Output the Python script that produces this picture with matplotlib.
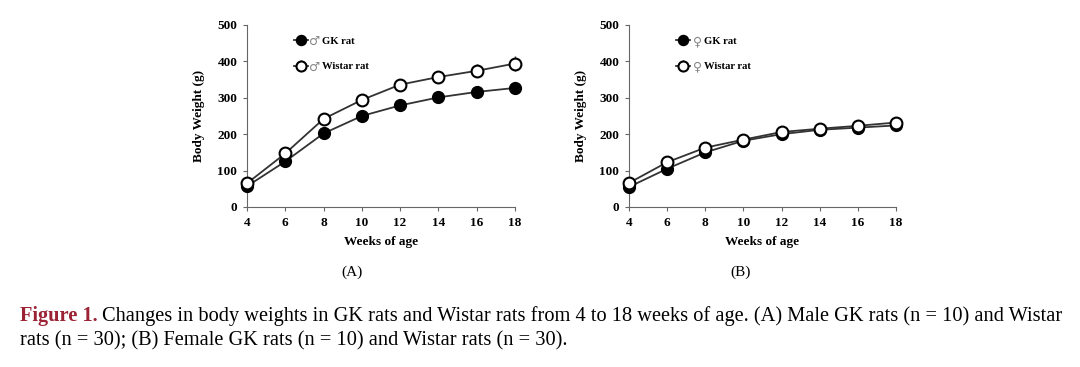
import numpy as np
import matplotlib.pyplot as plt

plt.rcParams['font.family'] = ['Liberation Serif', 'DejaVu Serif']

weeks = [4, 6, 8, 10, 12, 14, 16, 18]

# (A) male
male_gk = [57, 125, 202, 250, 279, 301, 316, 327]
male_gk_err = [3, 5, 6, 7, 7, 7, 8, 8]
male_wistar = [65, 147, 242, 294, 336, 357, 374, 394]
male_wistar_err = [4, 6, 8, 8, 10, 14, 18, 20]

# (B) female
female_gk = [55, 105, 150, 182, 200, 212, 218, 224]
female_gk_err = [3, 4, 5, 5, 5, 5, 6, 6]
female_wistar = [66, 123, 163, 185, 206, 215, 223, 232]
female_wistar_err = [3, 5, 5, 5, 6, 6, 7, 7]

fig = plt.figure(figsize=(10.8, 3.67), dpi=100)
axA = fig.add_axes([0.2287, 0.436, 0.2481, 0.496])
axB = fig.add_axes([0.5824, 0.436, 0.2472, 0.496])

line_col = '#333333'


def panel(ax, gk, gk_err, wi, wi_err):
    ax.errorbar(weeks, gk, yerr=gk_err, color=line_col, lw=1.3, marker='o', ms=8.5,
                mfc='black', mec='black', ecolor=line_col, elinewidth=1, capsize=0,
                clip_on=False, zorder=3, label='GK rat')
    ax.errorbar(weeks, wi, yerr=wi_err, color=line_col, lw=1.3, marker='o', ms=8.5,
                mfc='white', mec='black', mew=1.5, ecolor=line_col, elinewidth=1, capsize=0,
                clip_on=False, zorder=4, label='Wistar rat')
    ax.set_xlim(4, 18)
    ax.set_ylim(0, 500)
    ax.set_xticks(weeks)
    ax.set_yticks([0, 100, 200, 300, 400, 500])
    for s in ['top', 'right']:
        ax.spines[s].set_visible(False)
    for s in ['left', 'bottom']:
        ax.spines[s].set_color('#666666')
        ax.spines[s].set_linewidth(0.8)
    ax.tick_params(direction='out', length=3, width=0.8, color='#666666',
                   labelsize=9.5, pad=4)
    for t in ax.get_xticklabels() + ax.get_yticklabels():
        t.set_fontweight('bold')
    ax.set_xlabel('Weeks of age', fontsize=9.5, fontweight='bold', labelpad=5)
    ax.set_ylabel('Body Weight (g)', fontsize=9.5, fontweight='bold', labelpad=9)
    leg = ax.legend(loc='upper left', bbox_to_anchor=(0.14, 0.99), frameon=False,
                    handlelength=1.3, handletextpad=1.3, labelspacing=1.5,
                    fontsize=7.7, markerscale=0.85)
    for t in leg.get_texts():
        t.set_fontweight('bold')
    return leg


legA = panel(axA, male_gk, male_gk_err, male_wistar, male_wistar_err)
legB = panel(axB, female_gk, female_gk_err, female_wistar, female_wistar_err)

fig.canvas.draw()
# sex symbols drawn in a font with larger glyphs, just left of each legend label
for leg, sym in [(legA, '♂'), (legB, '♀')]:
    for t in leg.get_texts():
        bb = t.get_window_extent()
        fig.text((bb.x0 - 1.5) / 1080, (bb.y0 + bb.y1) / 2 / 367, sym, ha='right', va='center',
                 fontsize=9, color='#888888', family='DejaVu Sans')

fig.text(352 / 1080, 1 - 272 / 367, '(A)', ha='center', va='center', fontsize=11)
fig.text(741 / 1080, 1 - 272 / 367, '(B)', ha='center', va='center', fontsize=11)

cap1 = fig.text(20 / 1080, 1 - 316 / 367, 'Figure 1.', ha='left', va='center',
                fontsize=14.7, color='#9B2335', fontweight='bold')
fig.canvas.draw()
bb = cap1.get_window_extent()
fig.text(bb.x1 / 1080 + 0.004, 1 - 316 / 367,
         'Changes in body weights in GK rats and Wistar rats from 4 to 18 weeks of age. '
         '(A) Male GK rats (n = 10) and Wistar',
         ha='left', va='center', fontsize=14.7)
fig.text(20 / 1080, 1 - 341 / 367,
         'rats (n = 30); (B) Female GK rats (n = 10) and Wistar rats (n = 30).',
         ha='left', va='center', fontsize=14.7)

fig.savefig('out.png', dpi=100)
